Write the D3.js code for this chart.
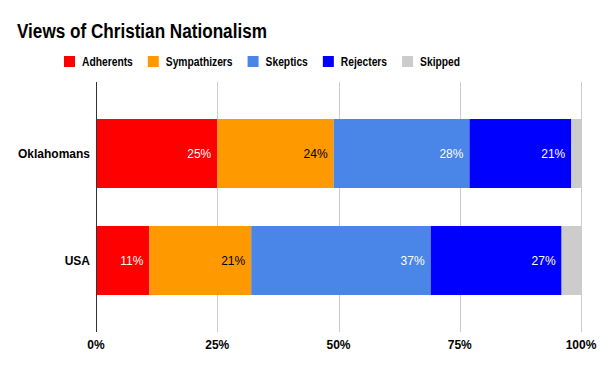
<!DOCTYPE html>
<html lang="en">
<head>
<meta charset="UTF-8">
<title>Views of Christian Nationalism</title>
<script src="https://d3js.org/d3.v7.min.js"></script>
<style>
    body { margin: 0; background: #fff; }
    text { font-family: Arial, "Liberation Sans", sans-serif; }
    .narrow { font-family: "Liberation Sans Narrow", "Arial Narrow", Arial, sans-serif; font-weight: bold; }
    .grid line { stroke: #ccc; stroke-width: 1px; }
</style>
</head>
<body>
<script>
    // data
    const groups = ["Oklahomans", "USA"];
    const seriesNames = ["Adherents", "Sympathizers", "Skeptics", "Rejecters", "Skipped"];
    const seriesColors = ["#ff0000", "#ff9900", "#4a86e8", "#0000ff", "#cccccc"];
    const labelColors = ["#fff", "#000", "#fff", "#fff", null];
    const oklahomans = [25, 24, 28, 21, 2];
    const usa = [11, 21, 37, 27, 4];
    const tickValues = [0, 25, 50, 75, 100];

    const width = 600, height = 371;
    const margin = {top: 82, right: 19, bottom: 39, left: 96};

    const svg = d3.select("body").append("svg")
        .attr("width", width)
        .attr("height", height);

    // condensed look: squeeze text horizontally (no narrow font available)
    function squeeze(sel, k) {
        const w = sel.node().getComputedTextLength();
        sel.attr("textLength", w * k).attr("lengthAdjust", "spacingAndGlyphs");
        return w * k;
    }

    const title = svg.append("text")
        .attr("class", "narrow")
        .attr("x", 17)
        .attr("y", 38)
        .style("font-size", "20px")
        .text("Views of Christian Nationalism");
    squeeze(title, 0.856);

    // legend
    let lx = 64;
    seriesNames.forEach(function (name, i) {
        svg.append("rect")
            .attr("x", lx).attr("y", 56)
            .attr("width", 11).attr("height", 11)
            .attr("fill", seriesColors[i]);
        const t = svg.append("text")
            .attr("class", "narrow")
            .attr("x", lx + 18).attr("y", 66)
            .style("font-size", "13px")
            .text(name);
        lx += 18 + squeeze(t, 0.79) + 15;
    });

    const x = d3.scaleLinear().domain([0, 100])
        .range([margin.left, width - margin.right]);
    const y = d3.scaleBand().domain(groups)
        .range([margin.top, height - margin.bottom])
        .paddingInner(0.355).paddingOuter(0.346);

    // gridlines
    svg.append("g").attr("class", "grid")
        .selectAll("line")
        .data(tickValues.slice(1))
        .join("line")
        .attr("x1", d => Math.round(x(d)) + 0.5).attr("x2", d => Math.round(x(d)) + 0.5)
        .attr("y1", margin.top).attr("y2", height - margin.bottom);

    const rows = [oklahomans, usa];
    const stacked = rows.map(function (vals, r) {
        let acc = 0;
        return vals.map(function (v, i) {
            const seg = {group: groups[r], i: i, v: v, x0: acc, x1: acc + v};
            acc += v;
            return seg;
        });
    }).flat();

    svg.append("g").selectAll("rect")
        .data(stacked)
        .join("rect")
        .attr("x", d => x(d.x0))
        .attr("width", d => x(d.x1) - x(d.x0))
        .attr("y", d => y(d.group))
        .attr("height", y.bandwidth())
        .attr("fill", d => seriesColors[d.i]);

    svg.append("g").selectAll("text")
        .data(stacked.filter(d => labelColors[d.i]))
        .join("text")
        .attr("x", d => x(d.x1) - 6)
        .attr("y", d => y(d.group) + y.bandwidth() / 2)
        .attr("dy", "0.35em")
        .attr("text-anchor", "end")
        .attr("fill", d => labelColors[d.i])
        .style("font-size", "12px")
        .text(d => d.v + "%");

    // axis line at zero
    svg.append("line")
        .attr("x1", margin.left + 0.5).attr("x2", margin.left + 0.5)
        .attr("y1", margin.top).attr("y2", height - margin.bottom)
        .attr("stroke", "#333");

    // category labels
    svg.append("g").selectAll("text")
        .data(groups)
        .join("text")
        .attr("x", 90)
        .attr("y", d => y(d) + y.bandwidth() / 2)
        .attr("dy", "0.35em")
        .attr("text-anchor", "end")
        .style("font-size", "12px")
        .style("font-weight", "bold")
        .text(d => d);

    // x tick labels
    svg.append("g").selectAll("text")
        .data(tickValues)
        .join("text")
        .attr("x", d => x(d))
        .attr("y", 349)
        .attr("text-anchor", "middle")
        .style("font-size", "12px")
        .style("font-weight", "bold")
        .text(d => d + "%");
</script>
</body>
</html>
